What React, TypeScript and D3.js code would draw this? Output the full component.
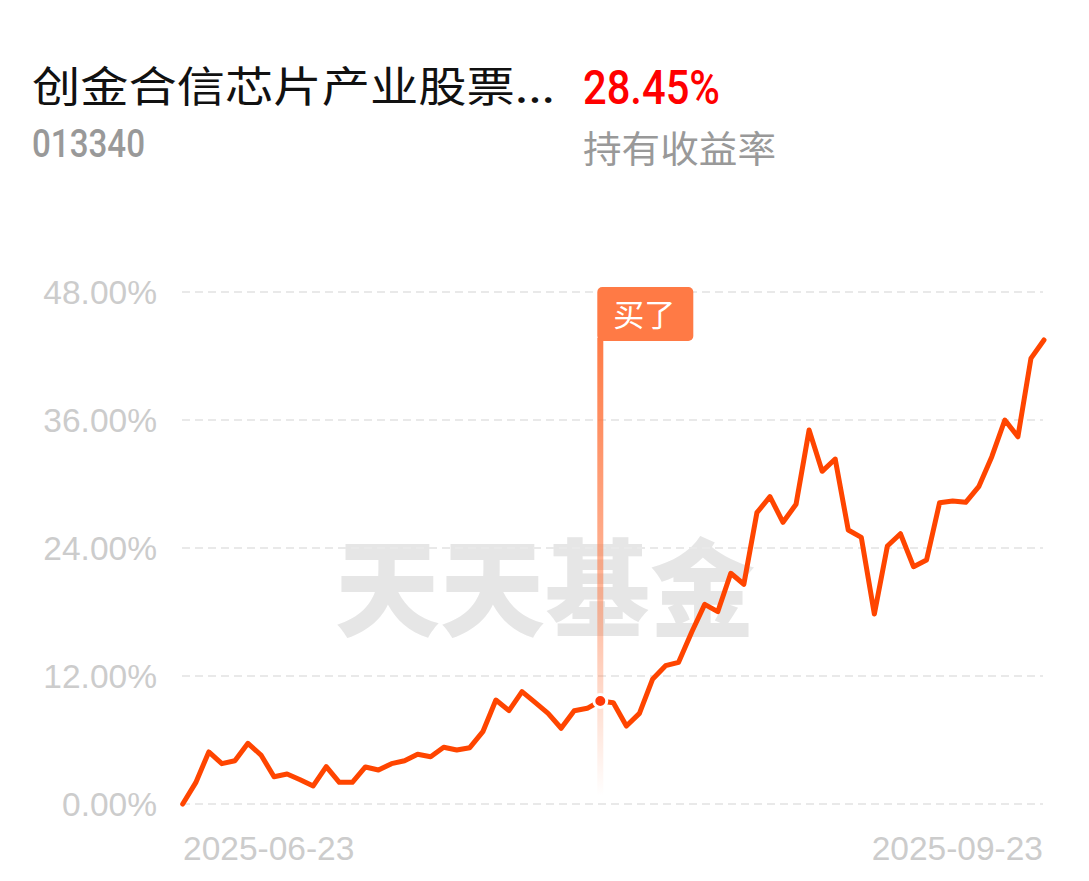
import React from 'react';
import * as d3 from 'd3';

const fundName = '创金合信芯片产业股票...';
const fundCode = '013340';
const holdReturn = '28.45%';
const holdReturnLabel = '持有收益率';
const watermark = '天天基金';
const buyLabel = '买了';

const xLabels = ['2025-06-23', '2025-09-23'];
const yTicks = [0, 12, 24, 36, 48];
const buyIndex = 32;

const values = [
  0, 2.0, 4.88, 3.78, 4.06, 5.69, 4.59, 2.56, 2.81, 2.28,
  1.69, 3.5, 2.03, 2.03, 3.47, 3.19, 3.78, 4.06, 4.66, 4.43,
  5.32, 5.06, 5.28, 6.78, 9.75, 8.75, 10.53, 9.53, 8.5, 7.1,
  8.75, 8.97, 9.66, 9.5, 7.31, 8.5, 11.69, 12.97, 13.28, 16.1,
  18.72, 18.03, 21.63, 20.6, 27.31, 28.81, 26.41, 28.1, 35.06, 31.19,
  32.34, 25.69, 25.0, 17.81, 24.19, 25.34, 22.25, 22.88, 28.25, 28.41,
  28.28, 29.75, 32.56, 36.0, 34.43, 41.78, 43.5,
];

export default function App() {
  const W = 1089;
  const H = 881;
  const x = d3.scaleLinear().domain([0, values.length - 1]).range([182.7, 1044]);
  const y = d3.scaleLinear().domain([0, 48]).range([804, 292]);
  const line = d3
    .line<number>()
    .x((_, i) => x(i))
    .y((d) => y(d));

  const bx = x(buyIndex);
  const by = y(values[buyIndex]);
  const cjk = '"Noto Sans CJK SC", "Noto Sans", sans-serif';
  const latin = '"Liberation Sans", Arial, sans-serif';

  return (
    <svg
      width={W}
      height={H}
      style={{ position: 'absolute', left: 0, top: 0, background: '#fff' }}
    >
      <defs>
        <linearGradient id="buyGrad" x1="0" y1="0" x2="0" y2="1">
          <stop offset="0%" stopColor="#FF7A45" stopOpacity={1} />
          <stop offset="60%" stopColor="#FF7A45" stopOpacity={0.5} />
          <stop offset="100%" stopColor="#FF7A45" stopOpacity={0} />
        </linearGradient>
      </defs>

      {/* header */}
      <text
        x={32}
        y={102}
        fontFamily={cjk}
        fontSize={42}
        fill="#111"
        textLength={523}
        lengthAdjust="spacingAndGlyphs"
      >
        {fundName}
      </text>
      <text
        x={583}
        y={104}
        fontFamily='Roboto, "Liberation Sans", sans-serif'
        fontWeight={500}
        fontSize={48}
        fill="#FF0000"
        textLength={137}
        lengthAdjust="spacingAndGlyphs"
      >
        {holdReturn}
      </text>
      <text
        x={32}
        y={157}
        fontFamily='Roboto, "Liberation Sans", sans-serif'
        fontWeight={500}
        fontSize={38}
        fill="#999"
        textLength={113}
        lengthAdjust="spacingAndGlyphs"
      >
        {fundCode}
      </text>
      <text
        x={583}
        y={163}
        fontFamily={cjk}
        fontSize={37}
        fill="#999"
        textLength={193}
        lengthAdjust="spacingAndGlyphs"
      >
        {holdReturnLabel}
      </text>

      {/* watermark */}
      <text
        x={335}
        y={628}
        fontFamily={cjk}
        fontWeight={900}
        fontSize={106}
        fill="#e6e6e6"
        textLength={420}
        lengthAdjust="spacingAndGlyphs"
      >
        {watermark}
      </text>

      {/* grid + y labels */}
      {yTicks.map((t) => (
        <g key={t}>
          <line
            x1={182}
            x2={1043}
            y1={y(t)}
            y2={y(t)}
            stroke="#e9e9e9"
            strokeWidth={2}
            strokeDasharray="8 5"
          />
          <text
            x={157}
            y={y(t) + 12}
            textAnchor="end"
            fontFamily={latin}
            fontSize={33.5}
            fill="#cccccc"
          >
            {t.toFixed(2)}%
          </text>
        </g>
      ))}

      {/* x labels */}
      <text x={183} y={860} fontFamily={latin} fontSize={33.5} fill="#cccccc">
        {xLabels[0]}
      </text>
      <text x={1043} y={860} textAnchor="end" fontFamily={latin} fontSize={33.5} fill="#cccccc">
        {xLabels[1]}
      </text>

      {/* buy marker line */}
      <rect x={bx - 3} y={338} width={6} height={458} fill="url(#buyGrad)" />

      {/* series line */}
      <path
        d={line(values) || ''}
        fill="none"
        stroke="#FF4500"
        strokeWidth={5}
        strokeLinejoin="round"
        strokeLinecap="round"
      />

      {/* buy dot */}
      <circle cx={bx} cy={by} r={6.5} fill="#FF3A0A" stroke="#fff" strokeWidth={3} />

      {/* flag */}
      <rect x={bx - 3} y={287} width={96} height={54} rx={5} fill="#FF7A45" />
      <text
        x={bx - 3 + 47}
        y={326}
        textAnchor="middle"
        fontFamily={cjk}
        fontSize={31}
        fill="#fff"
      >
        {buyLabel}
      </text>
    </svg>
  );
}
